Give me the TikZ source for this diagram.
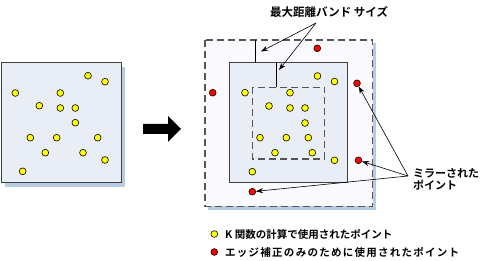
\documentclass[tikz,border=0pt]{standalone}
\usepackage{fontspec}
\newfontfamily\cjk{Noto Sans CJK JP Bold}
\newfontfamily\cjkwide{Noto Sans CJK JP Bold}[LetterSpace=12]
\usetikzlibrary{arrows.meta}
\definecolor{boxfill}{HTML}{E9EDF5}
\definecolor{outerfill}{HTML}{F9F9FE}
\definecolor{shadowc}{HTML}{B8CBE4}
\definecolor{edgec}{HTML}{404040}
\definecolor{dashc}{HTML}{555555}
\definecolor{ptyellow}{HTML}{FFFF00}
\definecolor{ptred}{HTML}{FF0000}
\tikzset{
  ypt/.style={circle,draw=black,line width=0.6pt,fill=ptyellow,inner sep=0pt,minimum size=6.8pt},
  rpt/.style={circle,draw=black,line width=0.6pt,fill=ptred,inner sep=0pt,minimum size=6.8pt},
  solidbox/.style={draw=edgec,line width=1pt,fill=boxfill},
  dashbox/.style={draw=dashc,line width=1.3pt,dash pattern=on 7pt off 4pt},
  lbl/.style={font=\cjk\fontsize{10.5pt}{12pt}\selectfont,inner sep=0pt,align=left},
  pointer/.style={draw=black,line width=0.6pt,-{Stealth[length=7pt,width=5pt]}},
  bandline/.style={draw=black,line width=1.2pt}
}
\begin{document}
\begin{tikzpicture}[x=1pt,y=-1pt]
\useasboundingbox (0,0) rectangle (504,261);
% left box
\fill[shadowc] (5,67) rectangle (125,187);
\draw[solidbox] (1,63) rectangle (121,183);
\foreach \n/\px/\py in {a/88/75.7,b/105/81.7,c/15.3/93,d/60.3/93,e/39.3/105.7,f/60.3/108,g/75.3/108,h/75.3/122.7,i/30.3/137.7,j/56.7/137.7,k/97.7/137.7,l/45.3/152.7,m/83/152.7,n/105/160,o/22.7/171.3}
  \node[ypt] (L\n) at (\px,\py) {};
% big arrow
\fill[black] (143,124) -- (168,124) -- (168,116) -- (181,129) -- (168,142) -- (168,134) -- (143,134) -- cycle;
% right: outer dashed box
\fill[shadowc] (208,43) rectangle (376,210);
\fill[outerfill] (205,40) rectangle (372.5,206.5);
\draw[dashbox] (205,40) rectangle (372.5,206.5);
% middle solid box
\draw[solidbox] (229,63) rectangle (347.5,182.5);
% inner dashed box
\draw[dashbox] (252.5,87.5) rectangle (324.5,159);
% band lines
\coordinate (b1top) at (255.7,40);
\coordinate (b1bot) at (255.7,63);
\coordinate (b2top) at (276.3,63);
\coordinate (b2bot) at (276.3,87.5);
\draw[bandline] (b1top) -- (b1bot);
\draw[bandline] (b2top) -- (b2bot);
% yellow points right
\foreach \n/\px/\py in {a/317.5/76,b/334.5/81.5,c/245/92.7,d/290/92.7,e/269/106,f/290/108,g/305/108,h/305/123,i/260/137.7,j/286.3/137.7,k/308.3/137.7,l/275/152.7,m/312.3/152.7,n/334.5/160.3,o/252.3/171.7}
  \node[ypt] (R\n) at (\px,\py) {};
% red points
\node[rpt] (m1) at (317.3,48.3) {};
\node[rpt] (m2) at (357,83.3) {};
\node[rpt] (m3) at (212.7,92.7) {};
\node[rpt] (m4) at (358.5,160.3) {};
\node[rpt] (m5) at (252.3,191.7) {};
% title
\node[lbl,font=\cjk\fontsize{11.5pt}{13pt}\selectfont,anchor=base west] (title) at (270,16.5) {最大距離バンド サイズ};
\coordinate (tsrc) at (316,23);
\coordinate (t1) at (261,51.5);
\coordinate (t2) at (279,70);
\draw[pointer] (tsrc) -- (t1);
\draw[pointer] (tsrc) -- (t2);
% mirrored label
\node[lbl,font=\cjk\fontsize{11pt}{12pt}\selectfont,anchor=north west] (mir) at (413,168) {ミラーされた\\ポイント};
\coordinate (msrc) at (408,176);
\draw[pointer] (msrc) -- (m2);
\draw[pointer] (msrc) -- (m4);
\draw[pointer] (msrc) -- (m5);
% legend
\node[ypt] (ly) at (214.3,234) {};
\node[rpt] (lr) at (214.3,252) {};
\node[lbl,anchor=west] (lyt) at (225,234) {K 関数の計算で使用されたポイント};
\node[lbl,font=\cjkwide\fontsize{10.5pt}{12pt}\selectfont,anchor=west] (lrt) at (225,252) {エッジ補正のみのために使用されたポイント};
\end{tikzpicture}
\end{document}
